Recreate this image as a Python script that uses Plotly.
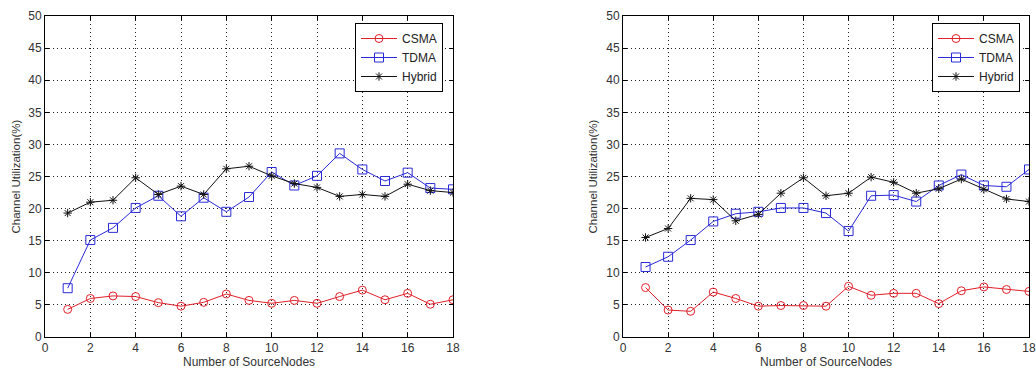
import plotly.graph_objects as go
from plotly.subplots import make_subplots

nodes = list(range(1, 19))

csma_a = [4.3, 6.0, 6.4, 6.3, 5.35, 4.8, 5.4, 6.7, 5.7, 5.25, 5.7, 5.25, 6.3, 7.3, 5.8, 6.8, 5.1, 5.8]
tdma_a = [7.6, 15.1, 17.0, 20.1, 22.0, 18.8, 21.7, 19.5, 21.8, 25.7, 23.6, 25.1, 28.6, 26.1, 24.3, 25.6, 23.2, 23.0]
hybrid_a = [19.3, 21.0, 21.3, 24.8, 22.2, 23.5, 22.2, 26.2, 26.6, 25.1, 23.9, 23.3, 21.9, 22.2, 21.9, 23.8, 22.8, 22.5]

csma_b = [7.7, 4.2, 4.0, 7.0, 6.0, 4.8, 4.9, 4.9, 4.8, 7.9, 6.5, 6.8, 6.8, 5.2, 7.2, 7.8, 7.4, 7.1]
tdma_b = [10.9, 12.5, 15.1, 18.0, 19.2, 19.5, 20.1, 20.1, 19.3, 16.5, 22.0, 22.1, 21.1, 23.6, 25.3, 23.6, 23.4, 26.1]
hybrid_b = [15.5, 16.9, 21.6, 21.4, 18.1, 19.1, 22.4, 24.8, 22.0, 22.4, 24.9, 24.1, 22.4, 23.1, 24.6, 23.0, 21.5, 21.1]

x_ticks = [0, 2, 4, 6, 8, 10, 12, 14, 16, 18]
y_ticks = [0, 5, 10, 15, 20, 25, 30, 35, 40, 45, 50]
x_title = "Number of SourceNodes"
y_title = "Channel Utilization(%)"

W, H = 1036, 369
FONT = "Liberation Sans, Arial"
fig = make_subplots(rows=1, cols=2)

series = [
    ("CSMA", "#e0202a", "circle-open", 8),
    ("TDMA", "#2a2ad8", "square-open", 9),
    ("Hybrid", "#111111", "asterisk-open", 7),
]
data = [(csma_a, tdma_a, hybrid_a), (csma_b, tdma_b, hybrid_b)]

for col, vals in enumerate(data, start=1):
    legname = "legend" if col == 1 else "legend2"
    for (name, color, sym, sz), v in zip(series, vals):
        fig.add_trace(go.Scatter(
            x=nodes, y=v, name=name, mode="lines+markers",
            line=dict(color=color, width=1),
            marker=dict(symbol=sym, size=sz, color=color, line=dict(width=1, color=color)),
            legend=legname,
        ), row=1, col=col)

ydom = [1 - 337 / H, 1 - 16 / H]
xdoms = [[45 / W, 453 / W], [623 / W, 1029 / W]]

axis_common = dict(
    showline=True, linecolor="black", linewidth=1, mirror="ticks",
    ticks="inside", ticklen=4, tickcolor="black",
    showgrid=True, gridcolor="#222222", gridwidth=1, griddash="1px,3px",
    zeroline=False, automargin=False,
    tickfont=dict(family=FONT, size=12, color="#333333"),
)

annotations = []
for i, dom in enumerate(xdoms, start=1):
    xa = "xaxis" if i == 1 else f"xaxis{i}"
    ya = "yaxis" if i == 1 else f"yaxis{i}"
    fig.layout[xa].update(domain=dom, range=[0, 18], tickvals=x_ticks, **axis_common)
    fig.layout[ya].update(domain=ydom, range=[0, 50], tickvals=y_ticks, **axis_common)
    annotations.append(dict(
        text=x_title, xref="paper", yref="paper",
        x=(dom[0] + dom[1]) / 2, y=1 - 362 / H, xanchor="center", yanchor="middle",
        showarrow=False, font=dict(family=FONT, size=12, color="#333333"),
    ))
    annotations.append(dict(
        text=y_title, xref="paper", yref="paper", textangle=-90,
        x=(15 if i == 1 else 592) / W, y=(ydom[0] + ydom[1]) / 2,
        xanchor="center", yanchor="middle",
        showarrow=False, font=dict(family=FONT, size=11.5, color="#333333"),
    ))

leg_common = dict(
    bgcolor="white", bordercolor="black", borderwidth=1,
    font=dict(family=FONT, size=12, color="#222222"),
    xanchor="right", yanchor="top", y=1 - 23 / H,
    tracegroupgap=0, itemwidth=36,
)
fig.update_layout(
    width=W, height=H,
    margin=dict(l=0, r=0, t=0, b=0),
    paper_bgcolor="white", plot_bgcolor="white",
    legend=dict(x=443 / W, **leg_common),
    legend2=dict(x=1020 / W, **leg_common),
    showlegend=True,
    annotations=annotations,
)

fig.write_html(
    "out.html",
    config={"displayModeBar": False},
    post_script="document.body.style.margin='0';document.body.style.overflow='hidden';",
)
